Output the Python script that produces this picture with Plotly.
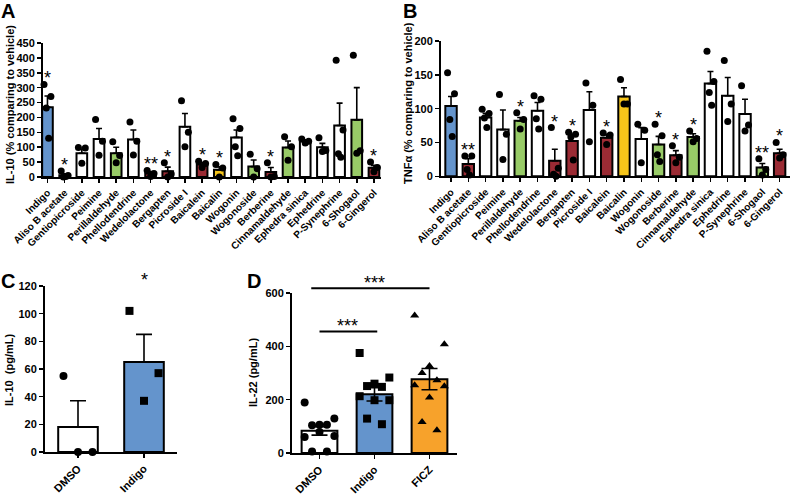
import plotly.graph_objects as go

# ---------------- data ----------------
compounds = ["Indigo", "Aliso B acetate", "Gentiopicroside", "Peimine", "Perillaldehyde",
             "Phellodendrine", "Wedelolactone", "Bergapten", "Picroside I", "Baicalein",
             "Baicalin", "Wogonin", "Wogonoside", "Berberine", "Cinnamaldehyde",
             "Ephedra sinica", "Ephedrine", "P-Synephrine", "6-Shogaol", "6-Gingerol"]
groups = ["blue", "red", "white", "white", "green", "white", "red", "red", "white", "red",
          "yellow", "white", "green", "red", "green", "white", "white", "white", "green", "red"]

il10_mean = [234, 6, 80, 128, 80, 126, 12, 19, 169, 42, 24, 133, 35, 17, 99, 120, 100, 173, 192, 31]
il10_sem = [38, 5, 14, 35, 20, 32, 6, 14, 44, 6, 10, 25, 22, 15, 22, 5, 13, 75, 108, 8]
il10_pts = [[311, 270, 232, 130], [20, 5, 0, 2], [99, 97, 46], [193, 120, 73], [118, 72, 48],
            [185, 120, 74], [22, 12, 2], [48, 10, 0], [256, 150, 102], [53, 45, 32],
            [42, 30, 0], [196, 163, 102, 71], [76, 28, 0], [48, 2, 0], [135, 102, 56],
            [128, 120, 114], [132, 89, 86], [392, 158, 78, 66], [409, 88, 80], [50, 32, 18]]
il10_sig = ["*", "*", "", "", "", "", "**", "*", "", "*", "*", "", "", "*", "", "", "", "", "", "*"]

tnf_mean = [104, 18, 87, 69, 82, 97, 23, 52, 98, 57, 118, 55, 47, 31, 58, 137, 119, 92, 13, 34]
tnf_sem = [14, 8, 6, 29, 5, 12, 17, 10, 27, 5, 13, 17, 12, 7, 5, 18, 27, 22, 6, 6]
tnf_pts = [[153, 122, 84, 59], [30, 30, 10, 2], [99, 93, 86, 72], [121, 62, 25], [94, 84, 70],
           [119, 114, 85, 70], [72, 12, 3, 0], [65, 62, 58, 24], [138, 105, 51], [64, 61, 47],
           [143, 107, 107], [77, 68, 20], [77, 60, 32, 22], [45, 28, 20], [67, 56, 51],
           [185, 140, 124, 105], [171, 107, 81], [134, 76, 67], [26, 10, 2], [50, 32, 27]]
tnf_sig = ["", "**", "", "", "*", "", "*", "*", "", "*", "", "", "*", "*", "*", "", "", "", "**", "*"]

c_groups = ["DMSO", "Indigo"]
c_mean = [18, 65]
c_sem = [19, 20]
c_pts = [[55, 0, 0], [102, 57, 37]]

d_groups = ["DMSO", "Indigo", "FICZ"]
d_mean = [83, 220, 277]
d_sem = [16, 25, 40]
d_pts = [[189, 129, 106, 104, 106, 60, 64, 79, 6, 6],
         [375, 283, 260, 251, 248, 213, 198, 198, 129, 108],
         [516, 408, 326, 300, 273, 254, 250, 208, 116, 85]]

# ---------------- styling ----------------
PALETTE = {"blue": "#6494CC", "red": "#9B2B34", "yellow": "#F6C51A",
           "green": "#98CB67", "white": "#FFFFFF", "orange": "#F7A22B"}
FONT = "Liberation Sans, Arial, sans-serif"
W, H = 792, 497


def jitter(n, w):
    base = [-1, 1, 0, -0.5, 0.5, -1, 1, 0, -0.5, 0.5]
    if n == 3:
        base = [-1, 1, 0]
    elif n == 4:
        base = [-1, 1, -0.35, 0.35]
    return [w * base[k] for k in range(n)]


fig = go.Figure()


def add_panel(xa, ya, means, sems, pts, cols, symbols, msize, jw, sym_err, cap, bw):
    n = len(means)
    idx = list(range(n))
    fig.add_trace(go.Bar(
        x=idx, y=means, width=bw, xaxis=xa, yaxis=ya,
        marker=dict(color=[PALETTE[c] for c in cols], line=dict(color="black", width=2)),
        error_y=dict(type="data", array=sems,
                     arrayminus=(sems if sym_err else [0] * n), symmetric=False,
                     color="black", thickness=1.6, width=cap),
        showlegend=False))
    xs, ys, ss = [], [], []
    for i, p in enumerate(pts):
        offs = jitter(len(p), jw)
        for v, o in zip(p, offs):
            xs.append(i + o)
            ys.append(v)
            ss.append(symbols[i])
    fig.add_trace(go.Scatter(
        x=xs, y=ys, mode="markers", xaxis=xa, yaxis=ya, cliponaxis=False,
        marker=dict(color="black", size=msize, symbol=ss, line=dict(width=0)),
        showlegend=False))


add_panel("x", "y", il10_mean, il10_sem, il10_pts, groups, ["circle"] * 20, 7, 0.2, False, 3, 0.62)
add_panel("x2", "y2", tnf_mean, tnf_sem, tnf_pts, groups, ["circle"] * 20, 7, 0.2, False, 3, 0.66)
add_panel("x3", "y3", c_mean, c_sem, c_pts, ["white", "blue"], ["circle", "square"], 8, 0.22, False, 8, 0.6)
add_panel("x4", "y4", d_mean, d_sem, d_pts, ["white", "blue", "orange"],
          ["circle", "square", "triangle-up"], 8, 0.27, True, 8, 0.65)

tickf = dict(family=FONT, size=11, color="black", weight="bold")
axis_common = dict(showline=True, linewidth=2, linecolor="black", ticks="outside",
                   ticklen=4, tickwidth=1.5, tickcolor="black", showgrid=False,
                   zeroline=False, tickfont=tickf, fixedrange=True, automargin=False)


def dom(p0, p1):
    return [p0 / W, p1 / W]


def vdom(ptop, pbot):
    return [1 - pbot / H, 1 - ptop / H]


fig.update_layout(
    template="none",
    width=W, height=H, margin=dict(l=0, r=0, t=0, b=0, pad=0),
    paper_bgcolor="white", plot_bgcolor="white", bargap=0,
    font=dict(family=FONT, color="black"),
    xaxis=dict(axis_common, domain=dom(43, 381), range=[-0.26, 19.41],
               tickvals=list(range(20)), ticktext=compounds, tickangle=-45, anchor="y",
               tickfont=dict(tickf, size=10)),
    yaxis=dict(axis_common, domain=vdom(43, 177), range=[0, 450], dtick=50, anchor="x"),
    xaxis2=dict(axis_common, domain=dom(441, 790), range=[-0.58, 19.6],
                tickvals=list(range(20)), ticktext=compounds, tickangle=-45, anchor="y2",
                tickfont=dict(tickf, size=10)),
    yaxis2=dict(axis_common, domain=vdom(41, 176.3), range=[0, 200], dtick=50, anchor="x2"),
    xaxis3=dict(axis_common, domain=dom(45, 177), range=[-0.5, 1.5],
                tickvals=[0, 1], ticktext=c_groups, tickangle=-45, anchor="y3"),
    yaxis3=dict(axis_common, domain=vdom(286, 452), range=[0, 120], dtick=20, anchor="x3"),
    xaxis4=dict(axis_common, domain=dom(292, 457), range=[-0.5, 2.5],
                tickvals=[0, 1, 2], ticktext=d_groups, tickangle=-45, anchor="y4"),
    yaxis4=dict(axis_common, domain=vdom(293, 453), range=[0, 600], dtick=200, anchor="x4"),
)

ann = []
# panel letters
for letter, px, py in [("A", 8, 11), ("B", 410, 11), ("C", 8, 281), ("D", 254, 281)]:
    ann.append(dict(text=letter, x=px / W, y=1 - py / H, xref="paper", yref="paper",
                    showarrow=False, xanchor="center", yanchor="middle",
                    font=dict(size=20, family=FONT, weight="bold")))
# y axis titles
for txt, px, py in [("IL-10 (% comparing to vehicle)", 10, 105),
                    ("TNF\u03b1 (% comparing to vehicle)", 408, 103),
                    ("IL-10  (pg/mL)", 9, 370),
                    ("IL-22 (pg/mL)", 253, 372)]:
    ann.append(dict(text=txt, x=px / W, y=1 - py / H, xref="paper", yref="paper",
                    showarrow=False, textangle=-90, xanchor="center", yanchor="middle",
                    font=dict(size=11, family=FONT, weight="bold")))

# significance stars
def stars(xa, ya, sig, means, sems, pts, shift):
    for i, s in enumerate(sig):
        if s:
            top = max(max(pts[i]), means[i] + sems[i])
            ann.append(dict(text=s, x=i, y=top, xref=xa, yref=ya, showarrow=False,
                            xanchor="center", yanchor="bottom", yshift=shift,
                            font=dict(size=18, family=FONT, color="black")))


stars("x", "y", il10_sig, il10_mean, il10_sem, il10_pts, -6)
stars("x2", "y2", tnf_sig, tnf_mean, tnf_sem, tnf_pts, -6)
stars("x3", "y3", ["", "*"], c_mean, c_sem, c_pts, 19)

# panel D brackets
brackets = [(0, 2, 1.03, "***", -0.15, 0.0), (0, 1, 0.76, "***", 0.0, 0.05)]
for a, b, yd, s, pa, pb in brackets:
    fig.add_shape(type="line", xref="x4 domain", yref="y4 domain",
                  x0=(a + 0.5 + pa) / 3, x1=(b + 0.5 + pb) / 3,
                  y0=yd, y1=yd, line=dict(color="black", width=2))
    ann.append(dict(text=s, xref="x4 domain", yref="y4 domain",
                    x=((a + 0.5) + (b + 0.5)) / 6, y=yd, showarrow=False,
                    xanchor="center", yanchor="bottom", yshift=-7,
                    font=dict(size=18, family=FONT, color="black")))

fig.update_layout(annotations=ann)
fig.write_html("out.html", config={"displayModeBar": False, "staticPlot": True},
               post_script="document.body.style.margin='0';document.body.style.overflow='hidden';")
